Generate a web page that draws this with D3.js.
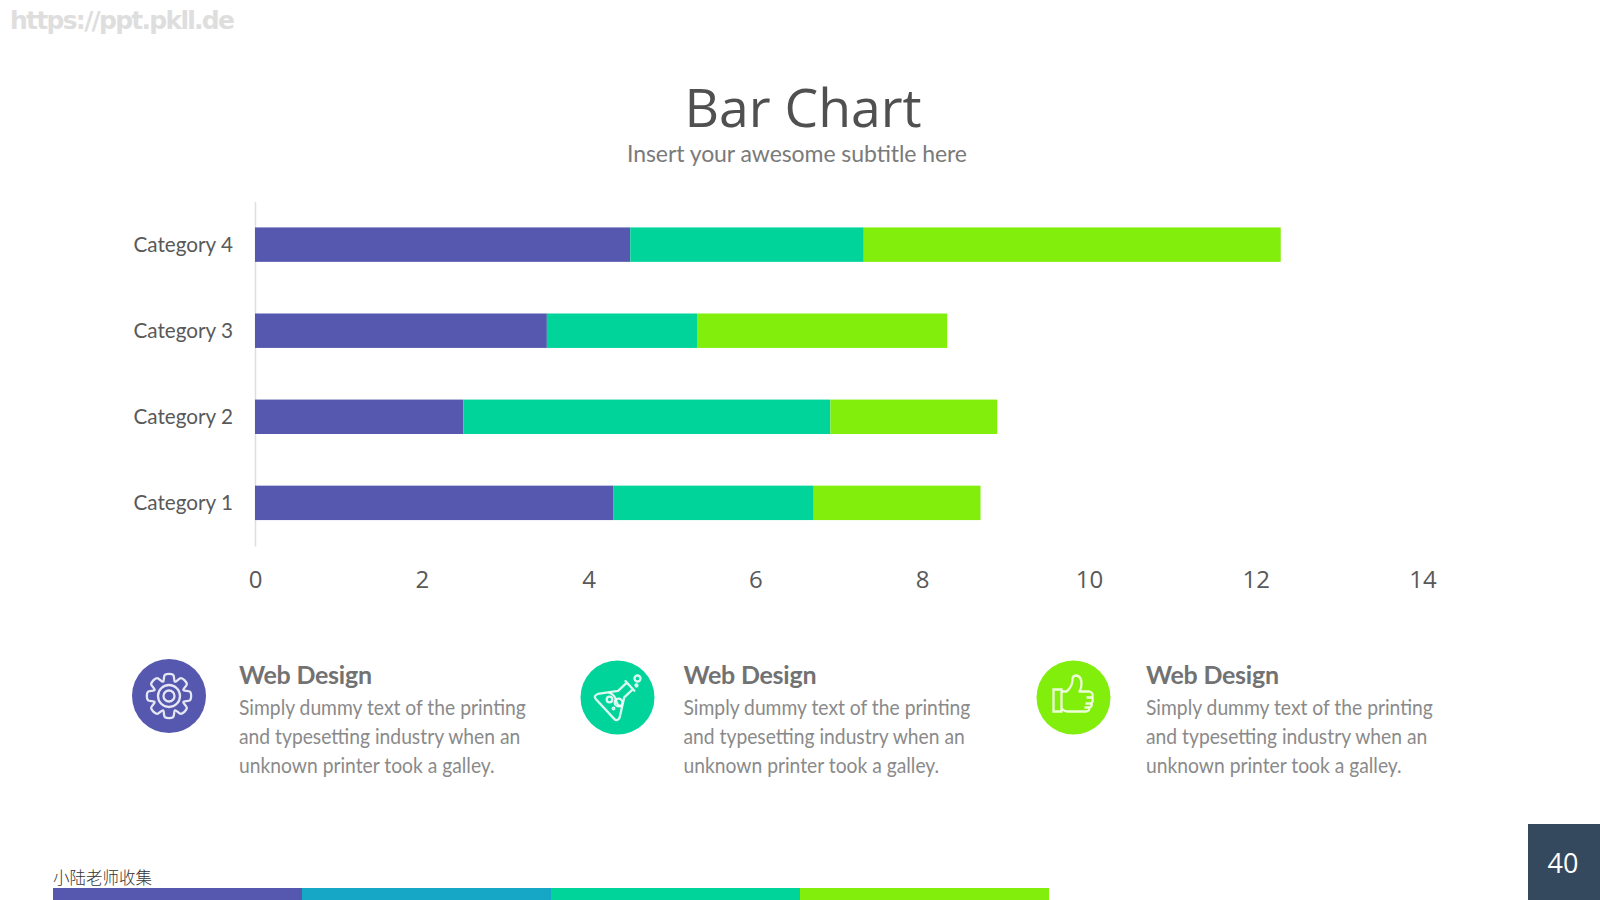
<!DOCTYPE html>
<html>
<head>
<meta charset="utf-8">
<script src="https://cdn.jsdelivr.net/npm/d3@7/dist/d3.min.js"></script>
<style>
html,body{margin:0;padding:0;background:#fff;overflow:hidden}
svg{display:block}
text{font-family:"Lato","Open Sans",sans-serif}
</style>
</head>
<body>
<svg id="slide" width="1600" height="900"></svg>
<script>
// Chart data
const categories = ["Category 1", "Category 2", "Category 3", "Category 4"];
const seriesA = [4.3, 2.5, 3.5, 4.5];
const seriesB = [2.4, 4.4, 1.8, 2.8];
const seriesC = [2.0, 2.0, 3.0, 5.0];
const seriesColors = ["#5558AE", "#00D49A", "#82EE0C"];
const axisTicks = [0, 2, 4, 6, 8, 10, 12, 14];

// Feature blurb text
const blurbHeading = "Web Design";
const blurbLines = [
  "Simply dummy text of the printing",
  "and typesetting industry when an",
  "unknown printer took a galley."
];

// Footer strip
const stripColors = ["#5558AE", "#17A7C6", "#00D49A", "#82EE0C"];

const svg = d3.select("#slide");
const ink = "#595959";

// Narrows a text selection horizontally while keeping its height
function condense(sel, ratio) {
  sel.each(function () {
    const w = this.getComputedTextLength();
    d3.select(this).attr("textLength", w * ratio).attr("lengthAdjust", "spacingAndGlyphs");
  });
}

// Watermark, title block
svg.append("text").attr("x", 10).attr("y", 29)
  .attr("font-size", 25).attr("font-weight", 700)
  .style("font-family", "'DejaVu Sans',sans-serif")
  .attr("fill", "#dedede").attr("textLength", 225).text("https://ppt.pkll.de");
svg.append("text").attr("x", 803).attr("y", 127).attr("text-anchor", "middle")
  .style("font-family", "'Open Sans',sans-serif")
  .attr("font-size", 53.5).attr("fill", "#505050").text("Bar Chart");
svg.append("text").attr("x", 797).attr("y", 162).attr("text-anchor", "middle")
  .attr("font-size", 23).attr("fill", "#7a7a7a")
  .attr("textLength", 340).text("Insert your awesome subtitle here");

// Stacked horizontal bars
const x = d3.scaleLinear().domain([0, 14]).range([255, 1422.5]);
const y = d3.scaleBand().domain(categories.slice().reverse()).range([201.6, 545.9]).paddingInner(0.6).paddingOuter(0.3);
const stackRows = categories.map((c, i) => ({ c, a: seriesA[i], b: seriesB[i], d: seriesC[i] }));
const stacks = d3.stack().keys(["a", "b", "d"])(stackRows);

const yAxis = d3.axisLeft(y).tickSize(0).tickPadding(22);
const yG = svg.append("g").attr("transform", "translate(255,0)").call(yAxis);
yG.select(".domain").attr("stroke", "#dedede").attr("stroke-width", 1.5);
yG.selectAll("text").attr("font-size", 22).attr("fill", ink).style("font-family", "'Lato',sans-serif").call(condense, 0.94);

svg.append("g").selectAll("g").data(stacks).join("g")
  .attr("fill", (d, i) => seriesColors[i])
  .selectAll("rect").data(d => d).join("rect")
  .attr("x", d => x(d[0]))
  .attr("width", d => x(d[1]) - x(d[0]))
  .attr("y", d => y(d.data.c))
  .attr("height", y.bandwidth());

const xAxis = d3.axisBottom(x).tickValues(axisTicks).tickSize(0).tickPadding(0);
const xG = svg.append("g").attr("transform", "translate(0,570.5)").call(xAxis);
xG.select(".domain").remove();
xG.selectAll("text").attr("font-size", 24).attr("fill", ink).attr("dy", "0.71em").style("font-family", "'Open Sans',sans-serif");

// Feature blurbs with round icons
const blurbs = [
  { cx: 169, cy: 696, tx: 239, color: seriesColors[0], icon: "gear" },
  { cx: 617.5, cy: 697.5, tx: 683.5, color: seriesColors[1], icon: "flask" },
  { cx: 1073.5, cy: 697.5, tx: 1146, color: seriesColors[2], icon: "thumb" }
];

function gearPath(r1, r2, teeth) {
  const pts = [];
  const step = Math.PI * 2 / teeth;
  for (let i = 0; i < teeth; i++) {
    const a = i * step - Math.PI / 2;
    [[-0.5, r1], [-0.25, r2], [0.25, r2]].forEach(([o, r]) => {
      pts.push([Math.cos(a + o * step) * r, Math.sin(a + o * step) * r]);
    });
  }
  return d3.line().curve(d3.curveCatmullRomClosed.alpha(0.9))(pts);
}

const drawIcon = {
  gear(g) {
    g.append("path").attr("d", gearPath(15.5, 21.5, 8)).attr("stroke-linejoin", "round");
    g.append("circle").attr("r", 11);
    g.append("circle").attr("r", 5.5);
  },
  flask(g) {
    const body = g.append("g").attr("transform", "rotate(47)");
    body.append("path").attr("d", "M-6.5,-17 L6.5,-17 M-4.5,-17 L-4.5,-5 L-16,12 Q-18,17 -13,17 L13,17 Q18,17 16,12 L4.5,-5 L4.5,-17")
      .attr("stroke-linejoin", "round").attr("stroke-linecap", "round");
    body.append("path").attr("d", "M-10,3 Q-4,0 1,3 T10,3");
    g.append("circle").attr("cx", -8).attr("cy", 2).attr("r", 2.8);
    g.append("circle").attr("cx", 1).attr("cy", 5).attr("r", 3.8);
    g.append("circle").attr("cx", -4).attr("cy", 11).attr("r", 0.8);
    g.append("circle").attr("cx", 20).attr("cy", -19).attr("r", 3);
    g.append("circle").attr("cx", 19).attr("cy", -12).attr("r", 1);
  },
  thumb(g) {
    g.append("path").attr("d", "M-20,-8 L-12,-8 L-12,14 L-20,14 Z");
    g.append("path").attr("d", "M-12,-6 L-7,-6 Q-1,-11 -1,-18 Q-1,-22 3,-22 Q8,-21 8,-14 Q8,-9 6,-6 L16,-6 Q20,-5 19,0 Q20,3 18,6 Q19,9 16,10 Q16,14 12,14 L-6,14 Q-9,14 -12,11")
      .attr("stroke-linejoin", "round");
    g.append("path").attr("d", "M13,0 L19,0 M12,6 L18,6 M11,10 L16,10");
  }
};

blurbs.forEach(b => {
  svg.append("circle").attr("cx", b.cx).attr("cy", b.cy).attr("r", 37).attr("fill", b.color);
  const g = svg.append("g")
    .attr("transform", `translate(${b.cx},${b.cy})`)
    .attr("fill", "none").attr("stroke", "#fff").attr("stroke-width", 2.3).attr("stroke-opacity", 0.85);
  drawIcon[b.icon](g);

  svg.append("text").attr("x", b.tx).attr("y", 684)
    .attr("font-size", 25).attr("font-weight", 700).attr("fill", "#727272")
    .attr("textLength", 133).text(blurbHeading);
  svg.append("g").selectAll("text").data(blurbLines).join("text")
    .attr("x", b.tx).attr("y", (d, i) => 715 + i * 29)
    .attr("font-size", 20.5).attr("fill", "#8a8a8a").text(d => d)
    .call(condense, 0.94);
});

// Footer: collector note, coloured strip, page number
svg.append("text").attr("x", 53).attr("y", 884)
  .style("font-family", "'Noto Sans CJK SC',sans-serif")
  .attr("font-size", 16.5).attr("font-weight", 300).attr("fill", "#333").text("小陆老师收集");

const strip = d3.scaleBand().domain(d3.range(stripColors.length)).range([53, 1049]);
svg.append("g").selectAll("rect").data(stripColors).join("rect")
  .attr("x", (d, i) => strip(i)).attr("y", 888)
  .attr("width", strip.bandwidth()).attr("height", 12).attr("fill", d => d);

svg.append("rect").attr("x", 1528).attr("y", 824).attr("width", 72).attr("height", 76).attr("fill", "#34495E");
svg.append("text").attr("x", 1563).attr("y", 873).attr("text-anchor", "middle")
  .style("font-family", "'Open Sans',sans-serif")
  .attr("font-size", 27).attr("fill", "#fff").text("40");
</script>
</body>
</html>
